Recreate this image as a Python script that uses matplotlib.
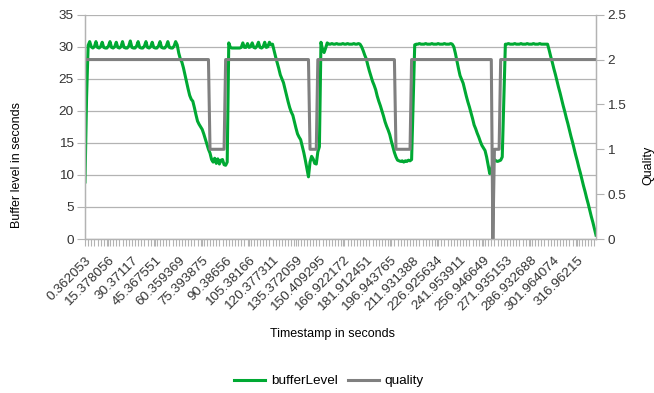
import matplotlib
matplotlib.use("Agg")
import matplotlib.pyplot as plt
import numpy as np

plt.rcParams['font.family'] = ['Liberation Sans', 'DejaVu Sans']

# category labels shown on the x axis (every 15th sample)
timestamp_labels = [
    "0.362053", "15.378056", "30.37117", "45.367551", "60.359369",
    "75.393875", "90.38656", "105.38166", "120.377311", "135.372059",
    "150.409295", "166.922172", "181.912451", "196.943765", "211.931388",
    "226.925634", "241.953911", "256.946649", "271.935153", "286.932688",
    "301.964074", "316.96215",
]
label_step = 15

# buffer level per sample (seconds)
buffer_level = [
    8.9, 22.0, 30.2, 30.8, 30.0, 29.8, 30.0, 30.8, 29.9, 29.8,
    30.0, 30.7, 29.9, 29.8, 29.8, 30.1, 30.8, 29.9, 29.8, 30.0,
    30.7, 29.9, 29.8, 30.0, 30.8, 29.9, 29.8, 29.8, 30.1, 30.9,
    29.9, 29.8, 29.8, 30.1, 30.8, 29.9, 29.8, 29.8, 30.1, 30.8,
    29.9, 29.8, 30.0, 30.7, 29.9, 29.8, 29.8, 30.1, 30.8, 29.9,
    29.8, 29.8, 30.1, 30.8, 29.9, 29.8, 29.8, 30.1, 30.8, 30.3,
    29.0, 28.1, 27.6, 26.7, 25.6, 24.5, 23.4, 22.4, 21.8, 21.5,
    20.5, 19.4, 18.4, 17.9, 17.5, 17.1, 16.4, 15.6, 14.8, 14.0,
    13.4, 12.4, 12.0, 12.6, 11.8, 12.5, 11.7, 12.3, 12.4, 11.6,
    11.5, 12.0, 30.6, 29.9, 29.8, 29.8, 29.8, 29.8, 29.8, 29.8,
    29.9, 30.6, 29.9, 29.9, 30.5, 29.9, 30.0, 30.6, 29.9, 29.8,
    30.1, 30.7, 29.9, 29.8, 30.0, 30.7, 29.9, 30.0, 30.7, 30.3,
    30.4, 29.4, 28.4, 27.5, 26.6, 25.6, 25.0, 24.4, 23.4, 22.4,
    21.4, 20.5, 19.8, 19.3, 18.3, 17.3, 16.4, 15.9, 15.5, 14.5,
    13.5, 12.3, 11.0, 9.7, 12.0, 12.9, 12.5, 11.8, 11.7, 13.6,
    14.4, 30.7, 29.6, 29.1, 29.8, 30.6, 30.4, 30.4, 30.5, 30.4,
    30.4, 30.5, 30.4, 30.4, 30.4, 30.5, 30.4, 30.4, 30.5, 30.4,
    30.4, 30.4, 30.5, 30.4, 30.4, 30.5, 30.4, 30.0, 29.4, 28.7,
    28.1, 27.1, 26.2, 25.4, 24.6, 24.0, 23.3, 22.3, 21.5, 20.8,
    20.0, 19.2, 18.3, 17.6, 17.0, 16.3, 15.3, 14.4, 13.5, 12.8,
    12.3, 12.2, 12.1, 12.2, 12.0, 12.2, 12.1, 12.3, 12.2, 12.4,
    21.5, 30.3, 30.4, 30.4, 30.5, 30.4, 30.4, 30.4, 30.5, 30.4,
    30.4, 30.4, 30.5, 30.4, 30.4, 30.4, 30.5, 30.4, 30.4, 30.4,
    30.5, 30.4, 30.4, 30.4, 30.5, 30.4, 30.0, 29.0, 27.8, 26.6,
    25.5, 24.9, 24.3, 23.3, 22.3, 21.4, 20.6, 19.7, 18.8, 17.8,
    17.2, 16.5, 15.9, 15.2, 14.6, 14.2, 13.8, 12.8, 11.5, 10.2,
    10.8, 11.8, 12.4, 12.2, 12.1, 12.2, 12.3, 12.8, 21.5, 30.4,
    30.4, 30.5, 30.4, 30.4, 30.4, 30.5, 30.4, 30.4, 30.4, 30.5,
    30.4, 30.4, 30.4, 30.5, 30.4, 30.4, 30.4, 30.5, 30.4, 30.4,
    30.4, 30.5, 30.4, 30.4, 30.4, 30.4, 30.4, 29.5, 28.5, 27.6,
    26.6, 25.7, 24.7, 23.7, 22.8, 21.8, 20.8, 19.9, 18.9, 18.0,
    17.0, 16.0, 15.1, 14.1, 13.1, 12.2, 11.2, 10.3, 9.3, 8.3,
    7.4, 6.4, 5.5, 4.5, 3.5, 2.6, 1.6, 0.6,
]

# selected quality level per sample
quality = [
    2, 2, 2, 2, 2, 2, 2, 2, 2, 2, 2, 2, 2, 2, 2, 2, 2, 2, 2, 2,
    2, 2, 2, 2, 2, 2, 2, 2, 2, 2, 2, 2, 2, 2, 2, 2, 2, 2, 2, 2,
    2, 2, 2, 2, 2, 2, 2, 2, 2, 2, 2, 2, 2, 2, 2, 2, 2, 2, 2, 2,
    2, 2, 2, 2, 2, 2, 2, 2, 2, 2, 2, 2, 2, 2, 2, 2, 2, 2, 2, 2,
    1, 1, 1, 1, 1, 1, 1, 1, 1, 1, 2, 2, 2, 2, 2, 2, 2, 2, 2, 2,
    2, 2, 2, 2, 2, 2, 2, 2, 2, 2, 2, 2, 2, 2, 2, 2, 2, 2, 2, 2,
    2, 2, 2, 2, 2, 2, 2, 2, 2, 2, 2, 2, 2, 2, 2, 2, 2, 2, 2, 2,
    2, 2, 2, 2, 1, 1, 1, 1, 1, 2, 2, 2, 2, 2, 2, 2, 2, 2, 2, 2,
    2, 2, 2, 2, 2, 2, 2, 2, 2, 2, 2, 2, 2, 2, 2, 2, 2, 2, 2, 2,
    2, 2, 2, 2, 2, 2, 2, 2, 2, 2, 2, 2, 2, 2, 2, 2, 2, 2, 2, 1,
    1, 1, 1, 1, 1, 1, 1, 1, 1, 2, 2, 2, 2, 2, 2, 2, 2, 2, 2, 2,
    2, 2, 2, 2, 2, 2, 2, 2, 2, 2, 2, 2, 2, 2, 2, 2, 2, 2, 2, 2,
    2, 2, 2, 2, 2, 2, 2, 2, 2, 2, 2, 2, 2, 2, 2, 2, 2, 2, 2, 2,
    2, 0, 1, 1, 1, 1, 2, 2, 2, 2, 2, 2, 2, 2, 2, 2, 2, 2, 2, 2,
    2, 2, 2, 2, 2, 2, 2, 2, 2, 2, 2, 2, 2, 2, 2, 2, 2, 2, 2, 2,
    2, 2, 2, 2, 2, 2, 2, 2, 2, 2, 2, 2, 2, 2, 2, 2, 2, 2, 2, 2,
    2, 2, 2, 2, 2, 2, 2, 2,
]

GRID = '#b3b3b3'
TEXT = '#333333'
samples = np.arange(len(buffer_level))

fig = plt.figure(figsize=(6.54, 3.93), dpi=100)
ax = fig.add_axes([85 / 654, 1 - 239 / 393, 511 / 654, 224.3 / 393])

ax.plot(samples, buffer_level, color='#00a933', lw=2.2,
        solid_joinstyle='round', label='bufferLevel')
ax.set_xlim(0, len(buffer_level) - 1)
ax.set_ylim(0, 35)
ax.set_yticks(range(0, 36, 5))
ax.yaxis.grid(True, color=GRID, lw=0.9)
ax.set_axisbelow(True)

ax.set_xticks(samples[::label_step])
ax.set_xticklabels(timestamp_labels, rotation=45, ha='right', va='top',
                   rotation_mode='anchor')
ax.set_xticks(samples[::2], minor=True)
ax.tick_params(axis='x', which='both', length=5, width=0.8, color=GRID,
               pad=6, labelsize=9.7, labelcolor=TEXT)
ax.tick_params(axis='y', length=6, width=0.8, color=GRID, pad=2,
               labelsize=9.7, labelcolor=TEXT)

ax2 = ax.twinx()
ax2.plot(samples, quality, color='#808080', lw=2.2, label='quality')
ax2.set_ylim(0, 2.5)
ax2.set_yticks([0, 0.5, 1, 1.5, 2, 2.5])
ax2.set_yticklabels(['0', '0.5', '1', '1.5', '2', '2.5'])
ax2.tick_params(axis='y', length=6, width=0.8, color=GRID, pad=2,
                labelsize=9.7, labelcolor=TEXT)

for a in (ax, ax2):
    a.spines['top'].set_visible(False)
    for side in ('left', 'right', 'bottom'):
        a.spines[side].set_color(GRID)
        a.spines[side].set_linewidth(0.9)

fig.text(17 / 654, 1 - 165 / 393, 'Buffer level in seconds', rotation=90,
         ha='center', va='center', fontsize=9, color='black')
fig.text(648 / 654, 1 - 165 / 393, 'Quality', rotation=90,
         ha='center', va='center', fontsize=9, color='black')
fig.text(332 / 654, 1 - 334 / 393, 'Timestamp in seconds',
         ha='center', va='center', fontsize=9, color='black')

handles = ax.get_lines() + ax2.get_lines()
fig.legend(handles, [h.get_label() for h in handles], loc='center',
           bbox_to_anchor=(329 / 654, 1 - 381 / 393), ncol=2, frameon=False,
           handlelength=2.3, handletextpad=0.4, columnspacing=0.8,
           fontsize=9.7)

fig.savefig('out.png', dpi=100)
